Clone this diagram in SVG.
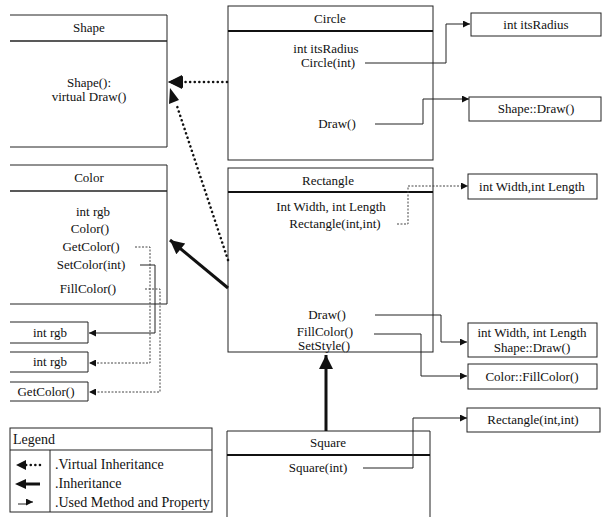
<svg xmlns="http://www.w3.org/2000/svg" width="604" height="517" viewBox="0 0 604 517">
<style>
text{font-family:"Liberation Serif","Times New Roman",serif;font-size:13px;fill:#111;text-anchor:middle}
.box{fill:#fff;stroke:#222;stroke-width:1}
.hdr{stroke:#111;stroke-width:2}
.hdr1{stroke:#222;stroke-width:1.3}
.use{fill:none;stroke:#222;stroke-width:1}
.dot{fill:none;stroke:#444;stroke-width:1;stroke-dasharray:2,1.5}
.vinh{fill:none;stroke:#111;stroke-width:2.5;stroke-dasharray:0.1,4.5;stroke-linecap:round}
.inh{fill:none;stroke:#111;stroke-width:3}
.lg{font-size:14px;text-anchor:start}
</style>
<defs>
<marker id="sm" viewBox="0 0 10 10" refX="10" refY="5" markerWidth="8" markerHeight="7" markerUnits="userSpaceOnUse" orient="auto">
<path d="M0,0 L10,5 L0,10 Z" fill="#111"/>
</marker>
<marker id="big" viewBox="0 0 10 10" refX="10" refY="5" markerWidth="16" markerHeight="14" markerUnits="userSpaceOnUse" orient="auto">
<path d="M0,0 L10,5 L0,10 Z" fill="#111"/>
</marker>
</defs>

<g id="Shape">
<path class="box" d="M10,15 H167 V147 H10"/>
<line class="hdr1" x1="10" y1="41" x2="167" y2="41"/>
<text x="89" y="32">Shape</text>
<text x="89" y="87">Shape():</text>
<text x="89" y="101">virtual Draw()</text>
</g>

<g id="Circle">
<rect class="box" x="228" y="6" width="205" height="154"/>
<line class="hdr" x1="228" y1="31" x2="433" y2="31"/>
<text x="330" y="23">Circle</text>
<text x="326" y="53">int itsRadius</text>
<text x="328" y="67">Circle(int)</text>
<text x="337" y="128">Draw()</text>
</g>

<g id="Color">
<path class="box" d="M10,165 H167 V304 H10"/>
<line class="hdr1" x1="10" y1="191" x2="167" y2="191"/>
<text x="89" y="182">Color</text>
<text x="93" y="216">int rgb</text>
<text x="90" y="233">Color()</text>
<text x="91" y="251">GetColor()</text>
<text x="91" y="269">SetColor(int)</text>
<text x="88" y="293">FillColor()</text>
</g>

<g id="Rectangle">
<rect class="box" x="228" y="168" width="205" height="184"/>
<line class="hdr" x1="228" y1="192" x2="433" y2="192"/>
<text x="328" y="185">Rectangle</text>
<text x="331" y="211">Int Width, int Length</text>
<text x="335" y="228">Rectangle(int,int)</text>
<text x="327" y="319">Draw()</text>
<text x="325" y="336">FillColor()</text>
<text x="324" y="350">SetStyle()</text>
</g>

<g id="Square">
<path class="box" d="M227,520 V431 H430 V520"/>
<line class="hdr" x1="227" y1="455" x2="430" y2="455"/>
<text x="328" y="447">Square</text>
<text x="318" y="472">Square(int)</text>
</g>

<g id="CircleRadius">
<rect class="box" x="471" y="13" width="130" height="23"/>
<text x="536" y="29">int itsRadius</text>
</g>
<g id="CircleDraw">
<rect class="box" x="469" y="97" width="132" height="24"/>
<text x="536" y="113">Shape::Draw()</text>
</g>
<g id="RectFields">
<rect class="box" x="468" y="174" width="129" height="25"/>
<text x="532" y="191">int Width,int Length</text>
</g>
<g id="RectDraw">
<rect class="box" x="468" y="323" width="129" height="34"/>
<text x="532" y="337">int Width, int Length</text>
<text x="532" y="352">Shape::Draw()</text>
</g>
<g id="RectFill">
<rect class="box" x="468" y="364" width="129" height="25"/>
<text x="532" y="381">Color::FillColor()</text>
</g>
<g id="SquareCtor">
<rect class="box" x="467" y="408" width="133" height="24"/>
<text x="533" y="424">Rectangle(int,int)</text>
</g>

<g id="RgbA">
<path class="box" d="M10,322 H88 V343 H10"/>
<text x="50" y="337">int rgb</text>
</g>
<g id="RgbB">
<path class="box" d="M10,352 H88 V372 H10"/>
<text x="50" y="366">int rgb</text>
</g>
<g id="GetColorBox">
<path class="box" d="M10,382 H88 V401 H10"/>
<text x="46" y="396">GetColor()</text>
</g>

<g id="Legend">
<rect class="box" x="10" y="428" width="202" height="84"/>
<line class="box" x1="10" y1="450" x2="212" y2="450"/>
<line class="box" x1="50" y1="450" x2="50" y2="512"/>
<text class="lg" x="13" y="444">Legend</text>
<text class="lg" x="55" y="469">.Virtual Inheritance</text>
<text class="lg" x="55" y="488">.Inheritance</text>
<text class="lg" x="55" y="507">.Used Method and Property</text>
<line class="vinh" x1="40" y1="465" x2="26" y2="465"/>
<path d="M16,465 L26,460 L26,470 Z" fill="#111"/>
<line class="inh" x1="40" y1="484" x2="22" y2="484"/>
<path d="M15,484 L26,479 L26,489 Z" fill="#111"/>
<path class="use" d="M18,504 H27 L30,502 H33" marker-end="url(#sm)"/>
</g>

<g id="connectors">
<line class="vinh" x1="227" y1="82" x2="178" y2="82"/>
<line x1="176" y1="82" x2="168" y2="82" stroke="none" marker-end="url(#big)"/>
<path d="M168,82 L183,76 L183,88 Z" fill="#111"/>
<line class="vinh" x1="228" y1="260" x2="176" y2="103"/>
<path d="M170,88 L179,100 L169,104 Z" fill="#111"/>
<line class="inh" x1="228" y1="288" x2="170" y2="240" marker-end="url(#big)"/>
<line class="inh" x1="326" y1="431" x2="326" y2="355" marker-end="url(#big)"/>

<path class="use" d="M365,63 H446 V24 H470" marker-end="url(#sm)"/>
<path class="use" d="M375,124 H423 V99 H469" marker-end="url(#sm)"/>
<path class="dot" d="M397,224 H408 V186 H468" marker-end="url(#sm)"/>
<path class="use" d="M375,315 H441 V342 H467" marker-end="url(#sm)"/>
<path class="use" d="M374,334 H421 V376 H467" marker-end="url(#sm)"/>
<path class="use" d="M363,468 H413 V418 H467" marker-end="url(#sm)"/>

<path class="dot" d="M135,247 H150 V363 H89" marker-end="url(#sm)"/>
<path class="use" d="M140,265 H155 V333 H89" marker-end="url(#sm)"/>
<path class="dot" d="M145,289 H160 V392 H89" marker-end="url(#sm)"/>
</g>
</svg>
